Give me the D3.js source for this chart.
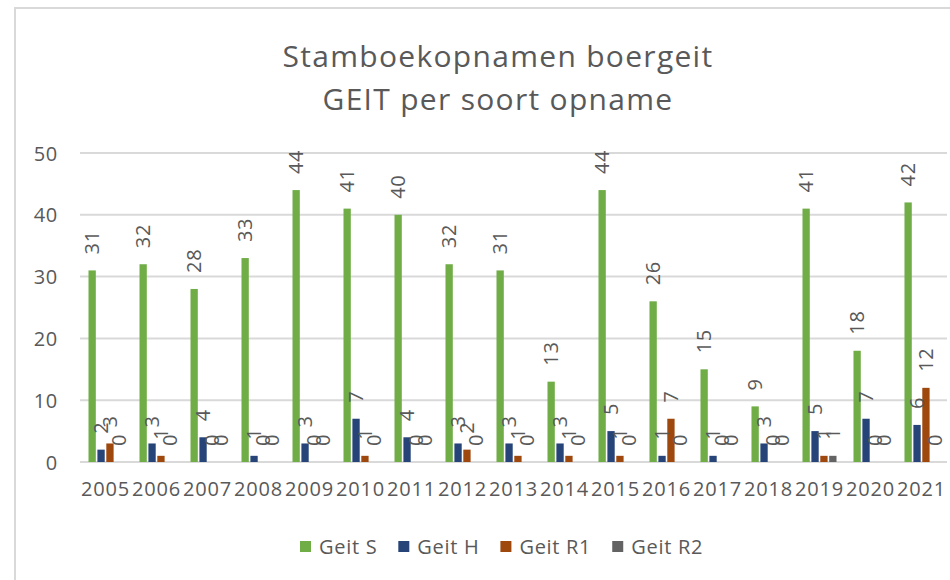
<!DOCTYPE html>
<html>
<head>
<meta charset="utf-8">
<script src="https://cdn.jsdelivr.net/npm/d3@7"></script>
<style>
  body{margin:0;background:#fff;}
  text{font-family:"Open Sans",sans-serif;fill:#595959;letter-spacing:0.7px;}
</style>
</head>
<body>
<div id="chart"></div>
<script>
// data
let years=["2005","2006","2007","2008","2009","2010","2011","2012","2013","2014","2015","2016","2017","2018","2019","2020","2021"]
let seriesNames=["Geit S","Geit H","Geit R1","Geit R2"]
let geitS=[31,32,28,33,44,41,40,32,31,13,44,26,15,9,41,18,42]
let geitH=[2,3,4,1,3,7,4,3,3,3,5,1,1,3,5,7,6]
let geitR1=[3,1,0,0,0,1,0,2,1,1,1,7,0,0,1,0,12]
let geitR2=[0,0,0,0,0,0,0,0,0,0,0,0,0,0,1,0,0]
let yTicks=[0,10,20,30,40,50]

let seriesValues=[geitS,geitH,geitR1,geitR2]
let colors=["#70ad47","#264478","#9e480e","#636363"]

let width=950
let height=580
let svg=d3.select("#chart").append("svg").attr("width",width).attr("height",height)

//outer chart border
svg.append("rect").attr("x",15).attr("y",8).attr("width",width).attr("height",height).attr("fill","none").attr("stroke","#d9d9d9").attr("stroke-width",2)

//title
svg.append("text").attr("x",498).attr("y",67).attr("text-anchor","middle").attr("font-size",30).style("letter-spacing","1.3px").text("Stamboekopnamen boergeit")
svg.append("text").attr("x",498).attr("y",110).attr("text-anchor","middle").attr("font-size",30).style("letter-spacing","1.3px").text("GEIT per soort opname")

//scales
let plotLeft=80, plotRight=947, plotTop=153, plotBottom=462
let yScale=d3.scaleLinear().domain([0,50]).range([plotBottom,plotTop])
let x0=d3.scaleBand().domain(years).range([plotLeft,plotRight]).paddingInner(0.333).paddingOuter(0.1667)
let x1=d3.scaleBand().domain(seriesNames).range([0,x0.bandwidth()]).paddingInner(0.18)

//gridlines
svg.append("g").selectAll("line").data(yTicks).enter().append("line")
  .attr("x1",plotLeft).attr("x2",plotRight).attr("y1",d=>yScale(d)).attr("y2",d=>yScale(d))
  .attr("stroke","#d9d9d9").attr("stroke-width",2)

//y axis labels
let axisY=d3.axisLeft(yScale).tickValues(yTicks).tickSize(0).tickPadding(0)
let gy=svg.append("g").attr("transform","translate(58,0)").call(axisY)
gy.select(".domain").remove()
gy.selectAll("text").attr("font-size",20).attr("font-family","Open Sans").attr("fill","#595959").attr("dy","0.35em")

//x axis labels
let axisX=d3.axisBottom(x0).tickSize(0).tickPadding(0)
let gx=svg.append("g").attr("transform","translate(0,"+(plotBottom+20)+")").call(axisX)
gx.select(".domain").remove()
gx.selectAll("text").attr("font-size",20).attr("font-family","Open Sans").attr("fill","#595959").style("letter-spacing","0.8px")

//bars
let rows=[]
years.forEach((yr,i)=>seriesNames.forEach((s,j)=>rows.push({year:yr,series:s,value:seriesValues[j][i],color:colors[j]})))

svg.append("g").selectAll("rect").data(rows).enter().append("rect")
  .attr("x",d=>x0(d.year)+x1(d.series))
  .attr("y",d=>yScale(d.value))
  .attr("width",x1.bandwidth())
  .attr("height",d=>plotBottom-yScale(d.value))
  .attr("fill",d=>d.color)

//value labels, rotated
svg.append("g").selectAll("text").data(rows).enter().append("text")
  .attr("transform",d=>"translate("+(x0(d.year)+x1(d.series)+x1.bandwidth()/2)+","+(yScale(d.value)-16)+") rotate(-90)")
  .attr("dy","0.35em").attr("font-size",20)
  .text(d=>d.value)

//legend
let legend=svg.append("g").attr("id","legend")
let lx=300
seriesNames.forEach((s,j)=>{
  legend.append("rect").attr("x",lx).attr("y",541).attr("width",11).attr("height",11).attr("fill",colors[j])
  let t=legend.append("text").attr("x",lx+19).attr("y",547).attr("dy","0.35em").attr("font-size",20).text(s)
  lx+=19+t.node().getComputedTextLength()+21
})
</script>
</body>
</html>
